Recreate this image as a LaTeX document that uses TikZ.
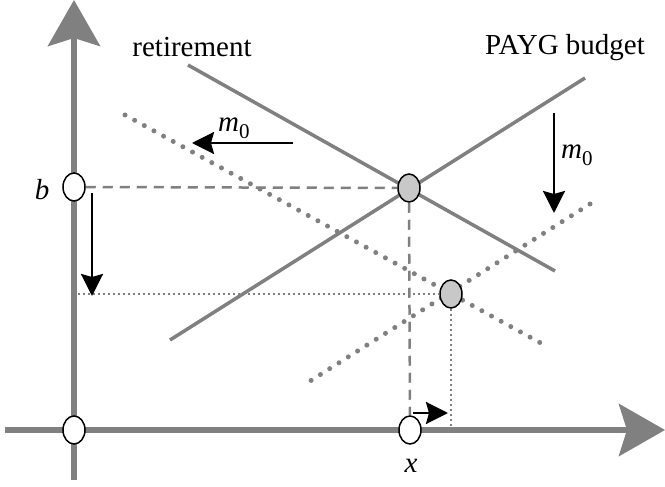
\documentclass[tikz,border=0pt]{standalone}
\usepackage{fontspec}
\setmainfont{Liberation Serif}
\usetikzlibrary{arrows.meta,shapes.geometric,backgrounds}
\definecolor{lgray}{HTML}{808080}
\definecolor{efill}{HTML}{C8C8C8}
\newcommand{\mzero}{\textit{m}\raisebox{-7pt}{\fontsize{21}{21}\selectfont 0}}
\begin{document}
\begin{tikzpicture}[x=1pt,y=-1pt,
 axis/.style={draw=lgray,line width=6.5pt,-{Stealth[length=46pt,width=52pt,inset=8pt]}},
 curve/.style={draw=lgray,line width=3.5pt},
 shifted/.style={draw=lgray,line width=5pt,line cap=round,dash pattern=on 0pt off 11pt},
 guide/.style={draw=lgray,line width=2.5pt,dash pattern=on 10pt off 7pt},
 fineguide/.style={draw=lgray,line width=1.5pt,dash pattern=on 2pt off 3pt},
 shiftarrow/.style={draw=black,line width=2.5pt,-{Stealth[length=22pt,width=22pt,inset=3pt]}},
 openpt/.style={ellipse,draw=black,line width=1.5pt,fill=white,minimum width=22pt,minimum height=28pt,inner sep=0pt},
 eqpt/.style={openpt,fill=efill},
 lab/.style={font=\fontsize{29}{34}\selectfont,inner sep=0pt}]
\useasboundingbox (0,0) rectangle (665,487);

% points
\node[openpt] (O) at (74,430) {};
\node[openpt] (B) at (74,187) {};
\node[openpt] (X) at (410,430) {};
\node[eqpt] (E1) at (409,188) {};
\node[eqpt] (E2) at (451,294) {};

% coordinates
\coordinate (yb) at (74,480);
\coordinate (yt) at (74,0);
\coordinate (xl) at (5,430);
\coordinate (xr) at (665,430);
\coordinate (r1) at (188,65);
\coordinate (r2) at (555,271);
\coordinate (p1) at (585,78);
\coordinate (p2) at (170,340);
\coordinate (s1) at (125,115);
\coordinate (s2) at (548,347);
\coordinate (q1) at (590,204);
\coordinate (q2) at (307,383);
\coordinate (hl) at (78,294);
\coordinate (vb) at (451,430);

\begin{scope}[on background layer]
\draw[axis] (yb) -- (yt);
\draw[axis] (xl) -- (xr);
\draw[curve] (r1) -- (r2);
\draw[curve] (p1) -- (p2);
\draw[shifted] (s1) -- (s2);
\draw[shifted] (q1) -- (q2);
\draw[guide] (B.east) -- (E1.west);
\draw[guide] (E1.south) -- (X.north);
\draw[fineguide] (hl) -- (E2.west);
\draw[fineguide] (E2.south) -- (vb);
\end{scope}

% shift arrows
\coordinate (a1s) at (293,143);
\coordinate (a1e) at (192,143);
\coordinate (a2s) at (554,113);
\coordinate (a2e) at (554,213);
\coordinate (a3s) at (92,193);
\coordinate (a3e) at (92,296);
\coordinate (a4s) at (413,413);
\coordinate (a4e) at (448,413);
\draw[shiftarrow] (a1s) -- (a1e);
\draw[shiftarrow] (a2s) -- (a2e);
\draw[shiftarrow] (a3s) -- (a3e);
\draw[shiftarrow] (a4s) -- (a4e);

% labels
\node[lab] (lret) at (192,47) {retirement};
\node[lab] (lpayg) at (565,48) {PAYG budget};
\node[lab] (lb) at (42,190) {\textit{b}};
\node[lab] (lx) at (411,466) {\textit{x}};
\node[lab,anchor=west] (lm1) at (218,128) {\mzero};
\node[lab,anchor=west] (lm2) at (561,155) {\mzero};
\end{tikzpicture}
\end{document}
